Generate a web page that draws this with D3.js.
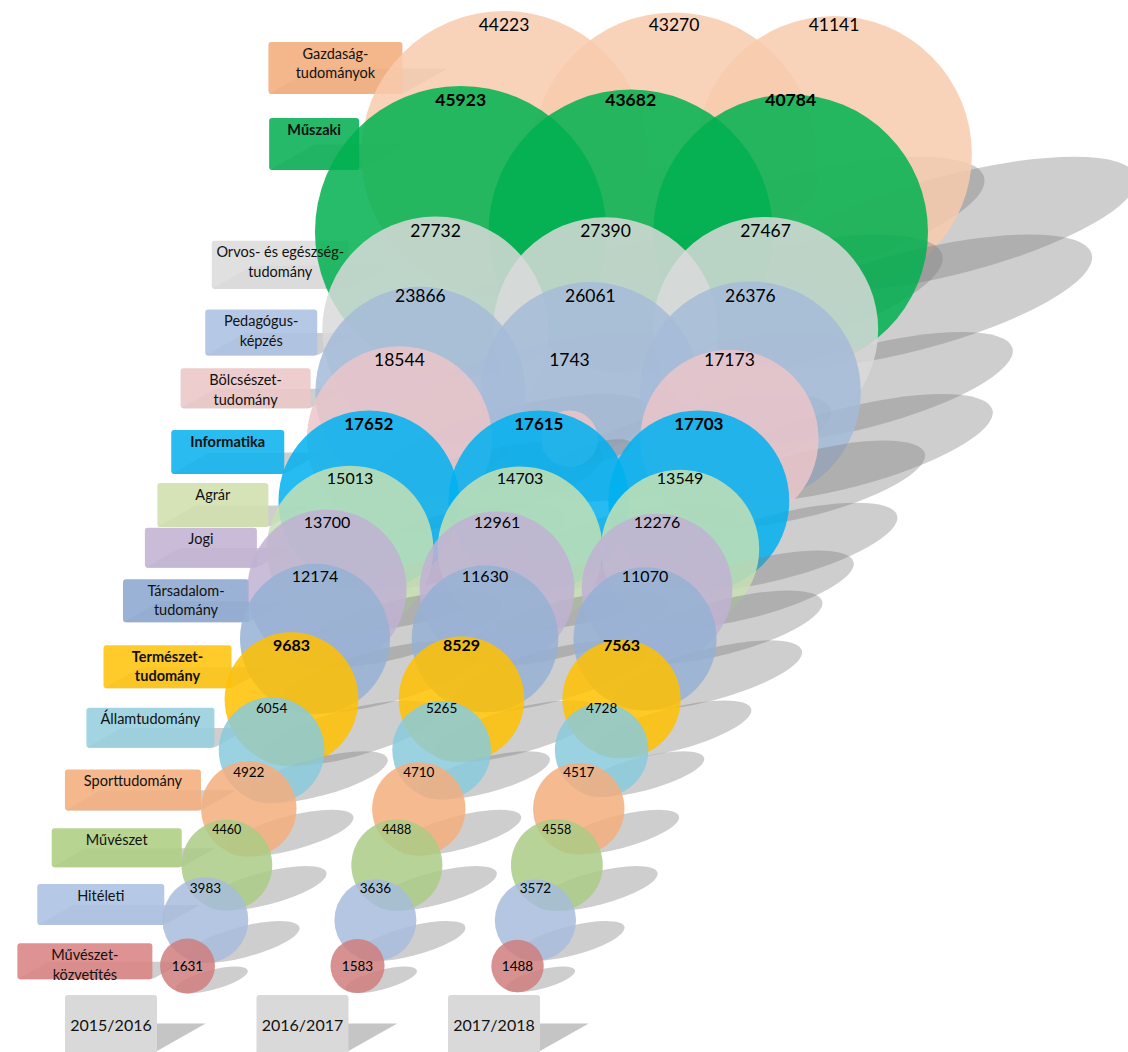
<!DOCTYPE html>
<html>
<head>
<meta charset="utf-8">
<script src="https://cdn.jsdelivr.net/npm/d3@7"></script>
<style>
  html, body { margin: 0; padding: 0; background: #ffffff; }
  svg { display: block; font-family: Lato, "Open Sans", "DejaVu Sans", sans-serif; }
</style>
</head>
<body>
<svg id="chart" width="1128" height="1052"></svg>
<script>
// ---- data -------------------------------------------------------------
const years = ["2015/2016", "2016/2017", "2017/2018"];

const categories = [
  "Gazdaság-\ntudományok",
  "Műszaki",
  "Orvos- és egészség-\ntudomány",
  "Pedagógus-\nképzés",
  "Bölcsészet-\ntudomány",
  "Informatika",
  "Agrár",
  "Jogi",
  "Társadalom-\ntudomány",
  "Természet-\ntudomány",
  "Államtudomány",
  "Sporttudomány",
  "Művészet",
  "Hitéleti",
  "Művészet-\nközvetítés"
];

const values2015 = [44223, 45923, 27732, 23866, 18544, 17652, 15013, 13700, 12174, 9683, 6054, 4922, 4460, 3983, 1631];
const values2016 = [43270, 43682, 27390, 26061, 1743, 17615, 14703, 12961, 11630, 8529, 5265, 4710, 4488, 3636, 1583];
const values2017 = [41141, 40784, 27467, 26376, 17173, 17703, 13549, 12276, 11070, 7563, 4728, 4517, 4558, 3572, 1488];

// bubble-chart coordinates of each category: vertical value and horizontal nudge
const categoryLevel  = [0, 1.34, 3.03, 4.10, 4.91, 5.98, 6.81, 7.50, 8.36, 9.40, 10.28, 11.29, 12.26, 13.21, 14];
const categoryNudge  = [0, -0.079, 0, 0.055, 0.039, 0, 0, -0.045, 0, 0, 0, 0, 0, 0, 0];

// categories whose names and numbers are set in bold
const emphasised = ["Műszaki", "Informatika", "Természet-\ntudomány"];

// ---- styling ----------------------------------------------------------
const bubbleFill = ["#F8CBAD", "#00B050", "#D9D9D9", "#A4BBD8", "#EBC6C9", "#00B0F0", "#C5E0B4",
                    "#BFB2D4", "#95B1D3", "#FFC000", "#8ACADC", "#F5AE7C", "#ABCB85", "#A7BCDC", "#D07E7E"];
const boxFill    = ["#F3AE7E", "#0FB15A", "#DDDDDD", "#ADC2E2", "#EBC8C8", "#13B5EF", "#D2E0AE",
                    "#C4B4D5", "#8FAAD0", "#FFC514", "#98CFDF", "#F4AF80", "#AFCF85", "#ADC2E2", "#DA8686"];
const boxWidth   = [134, 90, 137, 112, 130, 113, 111, 112, 126, 128, 128, 136, 130, 127, 135];
const boxHeight  = [52, 52, 48, 46, 40, 44, 44, 40, 43, 43, 40, 41, 39, 41, 36];
const labelSize  = [17.5, 17.5, 17.5, 17.5, 17.5, 17, 16, 16, 16, 16, 13.5, 13.5, 12.5, 13.5, 13.5];

const series = [values2015, values2016, values2017];

// ---- scales -----------------------------------------------------------
const svg = d3.select("#chart");
const yScale = d3.scaleLinear().domain([0, 14]).range([154, 966]);
const xScale = d3.scaleLinear().domain([0, 1, 2]).range([504, 674, 834]);   // year columns at the top row
const driftScale = d3.scaleLinear().domain([0, 1]).range([0, 165]);          // sideways drift, in x units
const rScale = d3.scaleSqrt().domain([0, d3.max(series.flat())]).range([0, 145.7]);
const tabX = d3.scalePoint().domain(years).range([111, 494]);
const LEAN = 0.137;          // the year columns lean left as they go down

// perspective ("lying") shadow: keeps the base edge, flattens and slants the rest
const SK = 0.87, SS = 0.49;
const shadowTf = (x, yBase) => `translate(${x},${yBase}) matrix(1,0,${-SK},${SS},0,0)`;

const bubbles = categories.map((cat, i) => years.map((yr, j) => {
  const v = series[j][i];
  const lvl = categoryLevel[i];
  return {
    i, j, cat, v,
    cx: xScale(j) + driftScale(categoryNudge[i] - LEAN * lvl),
    cy: yScale(lvl),
    r: rScale(v)
  };
}));

// ---- category tabs (left) --------------------------------------------
const boxes = categories.map((cat, i) => {
  const first = bubbles[i][0];
  const cyBox = first.cy - 0.703 * first.r + 14.6;
  const cxBox = 336 - 0.2805 * (cyBox - 66);
  const w = boxWidth[i], h = boxHeight[i];
  return { i, cat, x: cxBox - w / 2, y: cyBox - h / 2, w, h, cx: cxBox };
});

const gBoxShadow = svg.append("g");
gBoxShadow.selectAll("rect").data(boxes).join("rect")
  .attr("x", 0).attr("y", d => -d.h)
  .attr("width", d => d.w).attr("height", d => d.h).attr("rx", 3)
  .attr("transform", d => shadowTf(d.x, d.y + d.h))
  .attr("fill", "#7f7f7f").attr("fill-opacity", 0.38);

const gBox = svg.append("g");
gBox.selectAll("rect").data(boxes).join("rect")
  .attr("x", d => d.x).attr("y", d => d.y)
  .attr("width", d => d.w).attr("height", d => d.h).attr("rx", 3)
  .attr("fill", d => boxFill[d.i]).attr("fill-opacity", 0.9);

// ---- year tabs (bottom) -----------------------------------------------
const TAB_W = 92, TAB_H = 56, TAB_TOP = 995;
const gTab = svg.append("g");
gTab.selectAll("rect.sh").data(years).join("rect").attr("class", "sh")
  .attr("x", 0).attr("y", -TAB_H).attr("width", TAB_W).attr("height", TAB_H)
  .attr("transform", d => shadowTf(tabX(d) - TAB_W / 2, TAB_TOP + TAB_H))
  .attr("fill", "#7f7f7f").attr("fill-opacity", 0.45);
gTab.selectAll("rect.tab").data(years).join("rect").attr("class", "tab")
  .attr("x", d => tabX(d) - TAB_W / 2).attr("y", TAB_TOP)
  .attr("width", TAB_W).attr("height", TAB_H + 6).attr("rx", 3)
  .attr("fill", "#D9D9D9");

// ---- bubbles, row by row: shadows then discs ---------------------------
const gRows = svg.append("g");
bubbles.forEach(row => {
  const g = gRows.append("g");
  g.selectAll("circle.sh").data(row).join("circle").attr("class", "sh")
    .attr("cx", 0).attr("cy", d => -d.r).attr("r", d => d.r)
    .attr("transform", d => shadowTf(d.cx, d.cy + d.r))
    .attr("fill", "#7f7f7f").attr("fill-opacity", 0.38);
  g.selectAll("circle.b").data(row).join("circle").attr("class", "b")
    .attr("cx", d => d.cx).attr("cy", d => d.cy).attr("r", d => d.r)
    .attr("fill", d => bubbleFill[d.i]).attr("fill-opacity", 0.85);
});

// ---- texts -------------------------------------------------------------
const gBoxText = svg.append("g");
boxes.forEach(b => {
  const lines = b.cat.split("\n");
  const bold = emphasised.includes(b.cat);
  gBoxText.selectAll(null).data(lines).join("text")
    .attr("x", b.cx)
    .attr("y", (d, k) => b.y + 11.5 + k * 19.5)
    .attr("dy", "0.36em")
    .attr("text-anchor", "middle")
    .attr("font-size", 14.5)
    .attr("font-weight", bold ? 700 : 400)
    .attr("fill", "#111")
    .text(d => d);
});

// values sit on one line per row, just inside the top of the row's largest bubble;
// rows of small bubbles carry their values in the middle
const valueY = d => {
  const rowMax = d3.max(bubbles[d.i], b => b.r);
  return rowMax < 32 ? d.cy : d.cy - rowMax + 0.8 * labelSize[d.i];
};

const gVal = svg.append("g");
gVal.selectAll("text").data(bubbles.flat()).join("text")
  .attr("x", d => d.cx)
  .attr("y", valueY)
  .attr("dy", "0.36em")
  .attr("text-anchor", "middle")
  .attr("font-size", d => labelSize[d.i])
  .attr("font-weight", d => emphasised.includes(d.cat) ? 700 : 400)
  .attr("fill", "#000")
  .text(d => d.v);

svg.append("g").selectAll("text").data(years).join("text")
  .attr("x", d => tabX(d)).attr("y", TAB_TOP + 30).attr("dy", "0.36em")
  .attr("text-anchor", "middle").attr("font-size", 16).attr("fill", "#111")
  .text(d => d);
</script>
</body>
</html>
